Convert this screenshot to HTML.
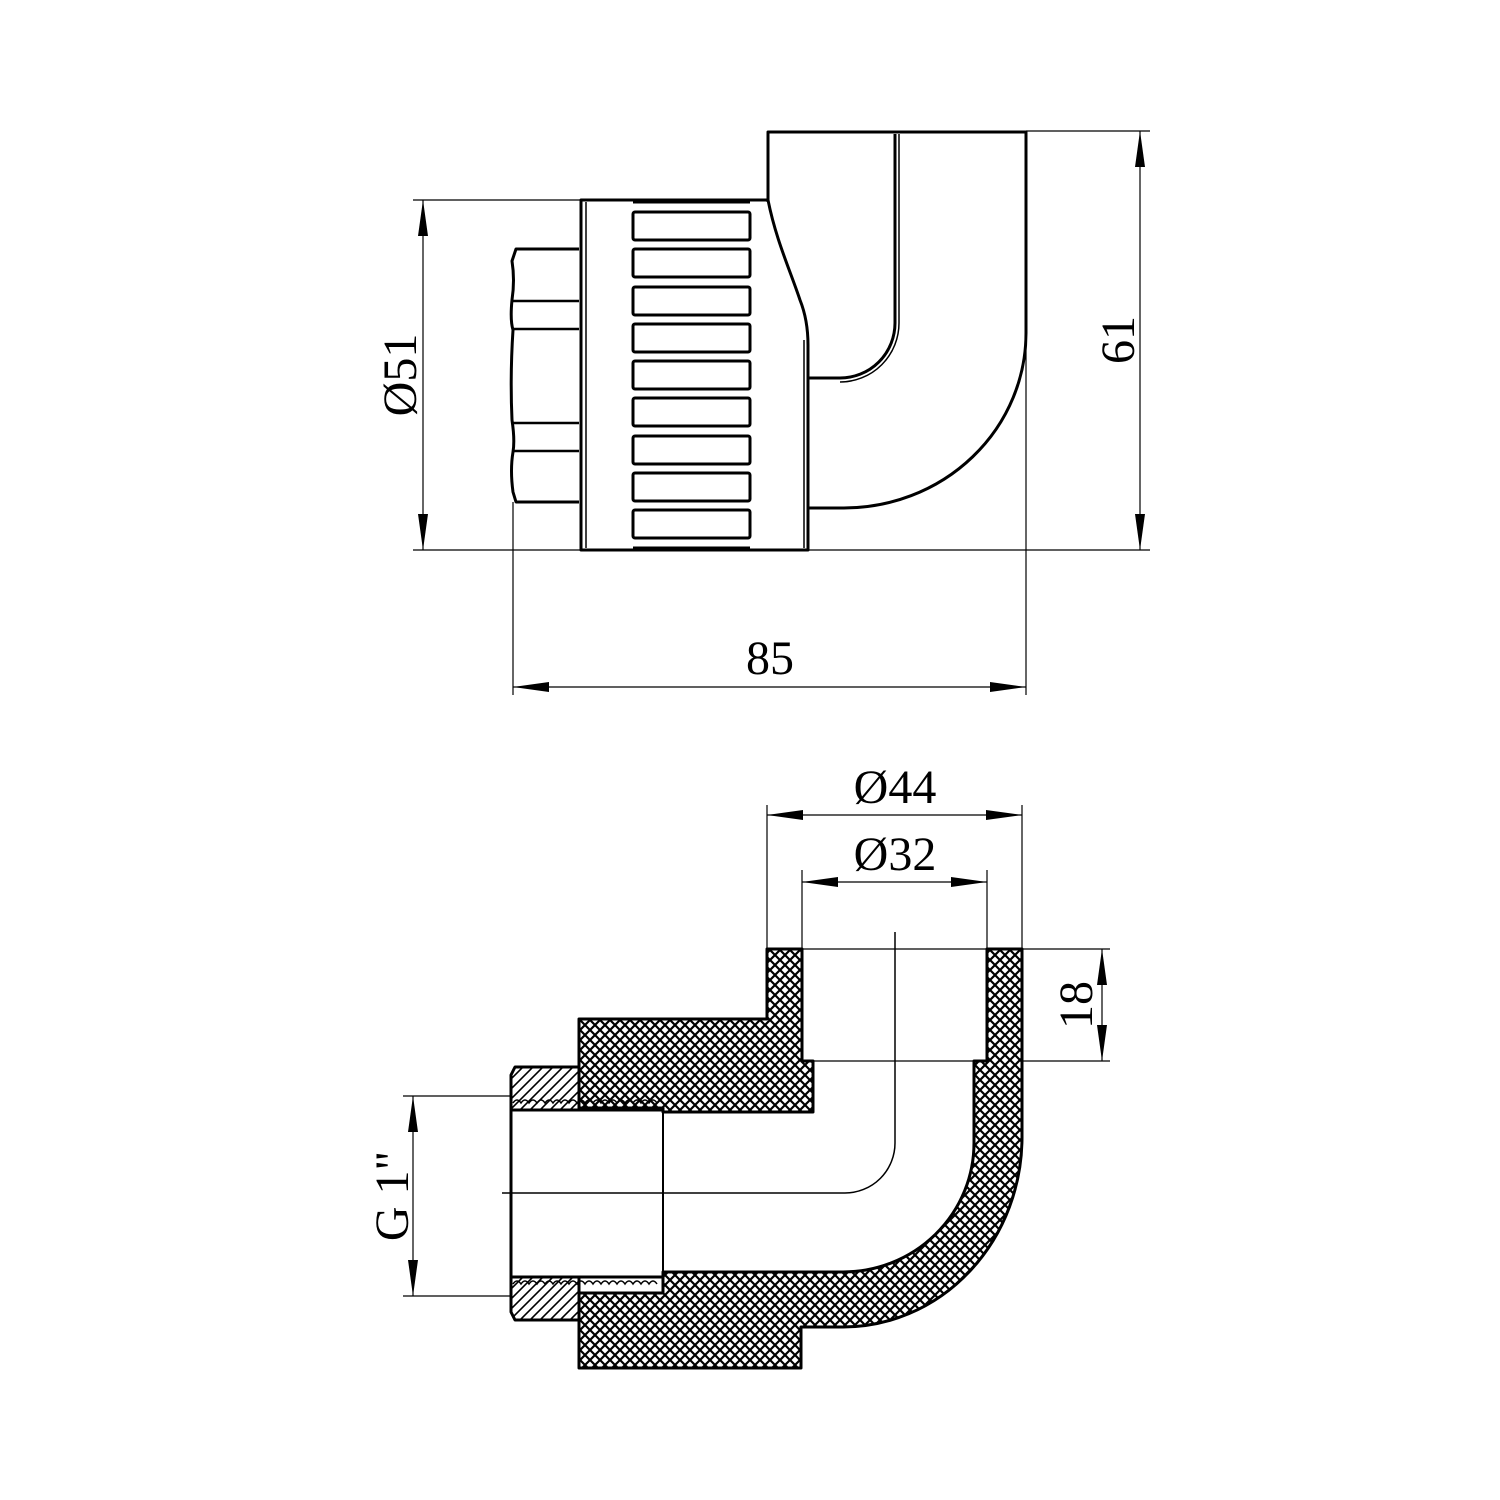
<!DOCTYPE html>
<html><head><meta charset="utf-8"><style>
html,body{margin:0;padding:0;background:#fff}
svg{display:block}
text{font-family:"Liberation Serif",serif;font-size:48px;fill:#000}
</style></head><body>
<svg width="1500" height="1500" viewBox="0 0 1500 1500" xmlns="http://www.w3.org/2000/svg">
<defs>
<pattern id="xh" width="10" height="10" patternUnits="userSpaceOnUse">
<rect width="10" height="10" fill="#fff"/>
<path d="M0 0L10 10M10 0L0 10M-2 8L2 12M8 -2L12 2M-2 2L2 -2M8 12L12 8" stroke="#000" stroke-width="2.2"/>
</pattern>
<pattern id="dh" width="10" height="10" patternUnits="userSpaceOnUse">
<rect width="10" height="10" fill="#fff"/>
<path d="M0 10L10 0M-3 3L3 -3M7 13L13 7" stroke="#000" stroke-width="1.6"/>
</pattern>
<marker id="a" viewBox="0 0 36 10" refX="36" refY="5" markerWidth="36" markerHeight="10" markerUnits="userSpaceOnUse" orient="auto-start-reverse"><path d="M0 0L36 5L0 10Z" fill="#000"/></marker>
</defs>

<!-- ================= TOP VIEW ================= -->
<g fill="none" stroke="#000" stroke-width="1.2">
<line x1="413" y1="200" x2="581" y2="200"/>
<line x1="413" y1="550" x2="1150" y2="550"/>
<line x1="1026" y1="131" x2="1150" y2="131"/>
<line x1="513" y1="502" x2="513" y2="695"/>
<line x1="1026" y1="333" x2="1026" y2="695"/>
<line x1="423" y1="200" x2="423" y2="550" marker-start="url(#a)" marker-end="url(#a)"/>
<line x1="1140" y1="131" x2="1140" y2="550" marker-start="url(#a)" marker-end="url(#a)"/>
<line x1="513" y1="687" x2="1026" y2="687" marker-start="url(#a)" marker-end="url(#a)"/>
</g>
<g fill="none" stroke="#000" stroke-width="3" stroke-linejoin="round">
<path d="M768 202 L768 132 L1026 132 L1026 333 A182 175 0 0 1 844 508 L808 508"/>
<path d="M895 134 L895 323 A55 55 0 0 1 840 378 L808 378" />
<path d="M899 134 L899 323 A59 59 0 0 1 840 382" stroke-width="1.5"/>
<path d="M581 200 L768 200 C776 240 790 270 800 300 Q808 320 808 345 L808 550 L581 550 Z"/>
<line x1="586" y1="202" x2="586" y2="548" stroke-width="1.5"/>
<line x1="804" y1="340" x2="804" y2="548" stroke-width="1.5"/>
<line x1="633" y1="201" x2="750" y2="201" stroke-width="5"/>
<line x1="633" y1="549" x2="750" y2="549" stroke-width="5"/>
<rect x="633" y="212" width="117" height="28" rx="2"/>
<rect x="633" y="249" width="117" height="28" rx="2"/>
<rect x="633" y="287" width="117" height="28" rx="2"/>
<rect x="633" y="324" width="117" height="28" rx="2"/>
<rect x="633" y="361" width="117" height="28" rx="2"/>
<rect x="633" y="398" width="117" height="28" rx="2"/>
<rect x="633" y="436" width="117" height="28" rx="2"/>
<rect x="633" y="473" width="117" height="28" rx="2"/>
<rect x="633" y="510" width="117" height="28" rx="2"/>
<path d="M579 249 L516 249 L512 261 Q515 280 512 300 Q510 320 513 330 Q510 376 512 420 Q515 440 513 452 Q510 470 513 492 L516 502 L579 502"/>
<line x1="513" y1="301" x2="579" y2="301" stroke-width="2.5"/>
<line x1="513" y1="329" x2="579" y2="329" stroke-width="2.5"/>
<line x1="513" y1="423" x2="579" y2="423" stroke-width="2.5"/>
<line x1="513" y1="451" x2="579" y2="451" stroke-width="2.5"/>
</g>
<text x="1118" y="340" text-anchor="middle" transform="rotate(-90 1118 340)" dy="16">61</text>
<text x="400" y="375" text-anchor="middle" transform="rotate(-90 400 375)" dy="16">Ø51</text>
<text x="770" y="674" text-anchor="middle">85</text>

<!-- ================= SECTION VIEW ================= -->
<g fill="none" stroke="#000" stroke-width="1.2">
<line x1="767" y1="805" x2="767" y2="949"/>
<line x1="1022" y1="805" x2="1022" y2="949"/>
<line x1="802" y1="870" x2="802" y2="949"/>
<line x1="987" y1="870" x2="987" y2="949"/>
<line x1="767" y1="815" x2="1022" y2="815" marker-start="url(#a)" marker-end="url(#a)"/>
<line x1="802" y1="882" x2="987" y2="882" marker-start="url(#a)" marker-end="url(#a)"/>
<line x1="1022" y1="949" x2="1110" y2="949"/>
<line x1="974" y1="1061" x2="1110" y2="1061"/>
<line x1="1102" y1="949" x2="1102" y2="1061" marker-start="url(#a)" marker-end="url(#a)"/>
<line x1="403" y1="1096" x2="511" y2="1096"/>
<line x1="403" y1="1296" x2="511" y2="1296"/>
<line x1="413" y1="1096" x2="413" y2="1296" marker-start="url(#a)" marker-end="url(#a)"/>
<line x1="802" y1="949" x2="987" y2="949"/>
<line x1="813" y1="1061" x2="974" y2="1061"/>
<path d="M895 932 L895 1143 A50 50 0 0 1 845 1193 L502 1193" stroke-width="1.5"/>
</g>
<g stroke="#000" stroke-width="3" stroke-linejoin="round">
<path fill="url(#xh)" d="M767 949 L802 949 L802 1061 L813 1061 L813 1112 L663 1112 L663 1108 L579 1108 L579 1019 L767 1019 Z"/>
<path fill="url(#xh)" d="M987 949 L1022 949 L1022 1137 A179 190 0 0 1 843 1327 L801 1327 L801 1368 L579 1368 L579 1293 L663 1293 L663 1272 L843 1272 A131 129 0 0 0 974 1143 L974 1061 L987 1061 Z"/>
<path fill="url(#dh)" d="M515 1067 L579 1067 L579 1110 L511 1110 L511 1075 Z"/>
<path fill="url(#dh)" d="M511 1277 L579 1277 L579 1320 L515 1320 L511 1312 Z"/>
<line x1="511" y1="1110" x2="511" y2="1277"/>
<line x1="663" y1="1110" x2="663" y2="1277" stroke-width="2"/>
<line x1="511" y1="1110" x2="663" y2="1110"/>
<line x1="511" y1="1277" x2="663" y2="1277"/>
</g>
<g fill="none" stroke="#000" stroke-width="1.5">
<path d="M513 1103 q4 -6 8 0 q4 -6 8 0 q4 -6 8 0 q4 -6 8 0 q4 -6 8 0 q4 -6 8 0 q4 -6 8 0 q4 -6 8 0 q4 -6 8 0 q4 -6 8 0 q4 -6 8 0 q4 -6 8 0 q4 -6 8 0 q4 -6 8 0 q4 -6 8 0 q4 -6 8 0 q4 -6 8 0 q4 -6 8 0"/>
<path d="M513 1284 q4 -6 8 0 q4 -6 8 0 q4 -6 8 0 q4 -6 8 0 q4 -6 8 0 q4 -6 8 0 q4 -6 8 0 q4 -6 8 0 q4 -6 8 0 q4 -6 8 0 q4 -6 8 0 q4 -6 8 0 q4 -6 8 0 q4 -6 8 0 q4 -6 8 0 q4 -6 8 0 q4 -6 8 0 q4 -6 8 0"/>
</g>
<text x="895" y="803" text-anchor="middle">Ø44</text>
<text x="895" y="870" text-anchor="middle">Ø32</text>
<text x="1076" y="1005" text-anchor="middle" transform="rotate(-90 1076 1005)" dy="16">18</text>
<text x="392" y="1196" text-anchor="middle" transform="rotate(-90 392 1196)" dy="16">G 1"</text>
</svg>
</body></html>
